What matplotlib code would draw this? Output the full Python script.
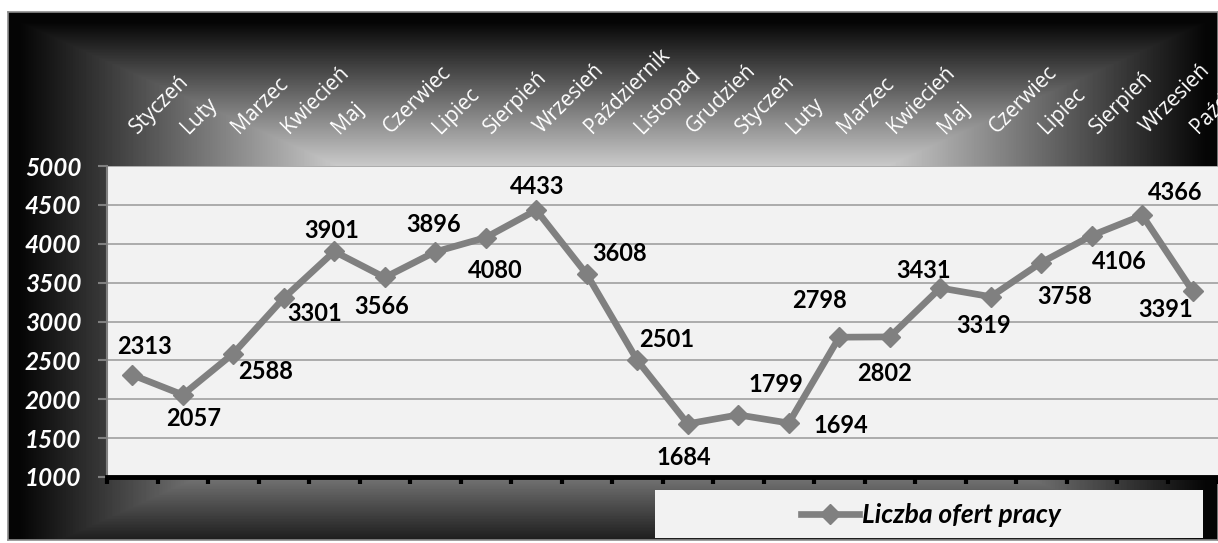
import numpy as np
import matplotlib
matplotlib.use("Agg")
import matplotlib.pyplot as plt
from matplotlib.patches import Rectangle
import matplotlib.transforms as mtransforms

# ---------------- data ----------------
months = ["Styczeń", "Luty", "Marzec", "Kwiecień", "Maj", "Czerwiec", "Lipiec",
          "Sierpień", "Wrzesień", "Październik", "Listopad", "Grudzień",
          "Styczeń", "Luty", "Marzec", "Kwiecień", "Maj", "Czerwiec", "Lipiec",
          "Sierpień", "Wrzesień", "Październik"]
offers = [2313, 2057, 2588, 3301, 3901, 3566, 3896, 4080, 4433, 3608, 2501,
          1684, 1799, 1694, 2798, 2802, 3431, 3319, 3758, 4106, 4366, 3391]
series_name = "Liczba ofert pracy"
y_ticks = [1000, 1500, 2000, 2500, 3000, 3500, 4000, 4500, 5000]

# data-label offsets (pixels, y up) from each point
label_offsets = [(12, 30), (11, -22), (32, -16), (31, -13), (-3, 23), (-3, -27),
                 (-2, 29), (10, -31), (1, 26), (33, 23), (29, 23), (-4, -32),
                 (38, 32), (52, 0), (-20, 39), (-5, -35), (-17, 19), (-7, -27),
                 (23, -32), (28, -24), (33, 25), (-27, -16)]

W, H = 1218, 543
fig = plt.figure(figsize=(W / 100, H / 100), dpi=100)
fig.patch.set_facecolor("white")

# ---------------- background gradient ----------------
bx0, by0, bx1, by1 = 8, 12, 1218, 540
bgax = fig.add_axes([bx0 / W, (H - by1) / H, (bx1 - bx0) / W, (by1 - by0) / H])
bgax.set_zorder(-1)
xs = np.arange(bx0, bx1) + 0.5
ys = np.arange(by0, by1) + 0.5
X, Y = np.meshgrid(xs, ys)
cx, cy, hw, hh = 613, 290, 620, 280
t = np.maximum(np.abs(X - cx) / hw, np.abs(Y - cy) / hh)
b = np.clip(0.78 - 1.5 * (t - 0.45), 0.02, 0.8)
bgax.imshow(b, cmap="gray", vmin=0, vmax=1, extent=[0, 1, 0, 1],
            aspect="auto", origin="upper", interpolation="bilinear")
bgax.set_xlim(0, 1)
bgax.set_ylim(0, 1)
bgax.set_xticks([])
bgax.set_yticks([])
for s in bgax.spines.values():
    s.set_edgecolor("#8c8c8c")
    s.set_linewidth(1.2)

# ---------------- main axes ----------------
ax = fig.add_axes([107 / W, (H - 477) / H, (1218 - 107) / W, (477 - 166) / H])
ax.set_facecolor("#f2f2f2")
x = np.arange(len(offers))
line, = ax.plot(x, offers, color="#808080", lw=4.8, marker="D", ms=10.5,
                label=series_name, zorder=3)
ax.set_xlim(-0.5, len(offers) - 0.5)
ax.set_ylim(1000, 5000)
ax.set_axisbelow(True)
ax.yaxis.grid(True, color="#a6a6a6", lw=1.3)
ax.set_yticks(y_ticks, labels=[str(v) for v in y_ticks], fontsize=17.5,
              fontweight="bold", fontstyle="italic", family="Lato", color="white")
ax.tick_params(axis="y", length=6.5, width=1.5, color="#808080", pad=12)
ax.set_xticks(np.arange(-0.5, len(offers), 1.0))
ax.tick_params(axis="x", direction="out", length=5, width=3, color="black",
               labelbottom=False)
for side in ("top", "right"):
    ax.spines[side].set_visible(False)
ax.spines["left"].set_color("#808080")
ax.spines["left"].set_linewidth(1.5)
ax.spines["bottom"].set_color("black")
ax.spines["bottom"].set_linewidth(3.5)

# month labels above the plot
trans = mtransforms.blended_transform_factory(ax.transData, ax.transAxes)
for i, m in enumerate(months):
    ax.text(i + 0.11, 1 + 32 / 311, m, transform=trans, rotation=45,
            rotation_mode="anchor", ha="left", va="baseline", color="white",
            fontsize=15, family="Open Sans", clip_on=False)

# data labels
for i, (v, (dx, dy)) in enumerate(zip(offers, label_offsets)):
    ax.annotate(str(v), (i, v), xytext=(dx, dy - 2), textcoords="offset pixels",
                ha="center", va="center", fontsize=17, fontweight="bold",
                family="Lato", color="black", annotation_clip=False, zorder=4)

# ---------------- legend ----------------
fig.patches.append(Rectangle((655 / W, (H - 538) / H), (1203 - 655) / W, (538 - 490) / H,
                             transform=fig.transFigure, facecolor="#f2f2f2",
                             edgecolor="none", zorder=2))
fig.legend(handles=[line], labels=[series_name], loc="center",
           bbox_to_anchor=(931 / W, 1 - 515 / H), frameon=False, numpoints=1,
           handlelength=2.2, handletextpad=0.1,
           prop=dict(family="Lato", weight="bold", style="italic", size=19))

fig.savefig("out.png", dpi=100)
